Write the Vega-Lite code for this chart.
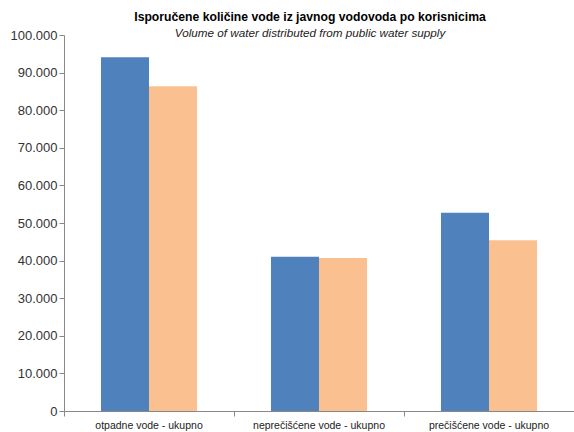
{
  "$schema": "https://vega.github.io/schema/vega-lite/v6.json",
  "autosize": {"type": "none"},
  "width": 510,
  "height": 376,
  "padding": {"left": 64, "top": 35, "right": 0, "bottom": 21},
  "background": "white",
  "title": {
    "text": "Isporučene količine vode iz javnog vodovoda po korisnicima",
    "subtitle": "Volume of water distributed from public water supply",
    "anchor": "middle",
    "dx": -9,
    "offset": -11,
    "font": "Liberation Sans",
    "fontSize": 12.2,
    "fontWeight": "bold",
    "color": "#000000",
    "subtitleFont": "Liberation Sans",
    "subtitleFontSize": 11.7,
    "subtitleFontStyle": "italic",
    "subtitleColor": "#222222",
    "subtitlePadding": 5
  },
  "data": {
    "values": [
      {"kategorija": "otpadne vode - ukupno", "serija": "A", "vrijednost": 94100},
      {"kategorija": "otpadne vode - ukupno", "serija": "B", "vrijednost": 86400},
      {"kategorija": "neprečišćene vode - ukupno", "serija": "A", "vrijednost": 41000},
      {"kategorija": "neprečišćene vode - ukupno", "serija": "B", "vrijednost": 40700},
      {"kategorija": "prečišćene vode - ukupno", "serija": "A", "vrijednost": 52700},
      {"kategorija": "prečišćene vode - ukupno", "serija": "B", "vrijednost": 45400}
    ]
  },
  "mark": {"type": "bar"},
  "encoding": {
    "x": {
      "field": "kategorija",
      "type": "nominal",
      "sort": null,
      "scale": {"paddingInner": 0, "paddingOuter": 0},
      "axis": {
        "title": null,
        "labelAngle": 0,
        "bandPosition": 0,
        "labelFont": "Liberation Sans",
        "labelFontSize": 10.5,
        "labelColor": "#222222",
        "labelPadding": 4,
        "domainColor": "#888888",
        "tickColor": "#888888",
        "tickSize": 5,
        "grid": false
      }
    },
    "xOffset": {
      "field": "serija",
      "type": "nominal",
      "scale": {"paddingInner": 0, "paddingOuter": 0.77}
    },
    "y": {
      "field": "vrijednost",
      "type": "quantitative",
      "scale": {"domain": [0, 100000], "nice": false},
      "axis": {
        "title": null,
        "values": [0, 10000, 20000, 30000, 40000, 50000, 60000, 70000, 80000, 90000, 100000],
        "labelExpr": "replace(format(datum.value, ','), ',', '.')",
        "labelFont": "Liberation Sans",
        "labelFontSize": 13,
        "labelColor": "#333333",
        "labelPadding": 2,
        "domainColor": "#888888",
        "tickColor": "#888888",
        "tickSize": 5,
        "grid": false
      }
    },
    "color": {
      "field": "serija",
      "type": "nominal",
      "scale": {"domain": ["A", "B"], "range": ["#4F81BD", "#FAC090"]},
      "legend": null
    }
  },
  "config": {"view": {"stroke": null}}
}
